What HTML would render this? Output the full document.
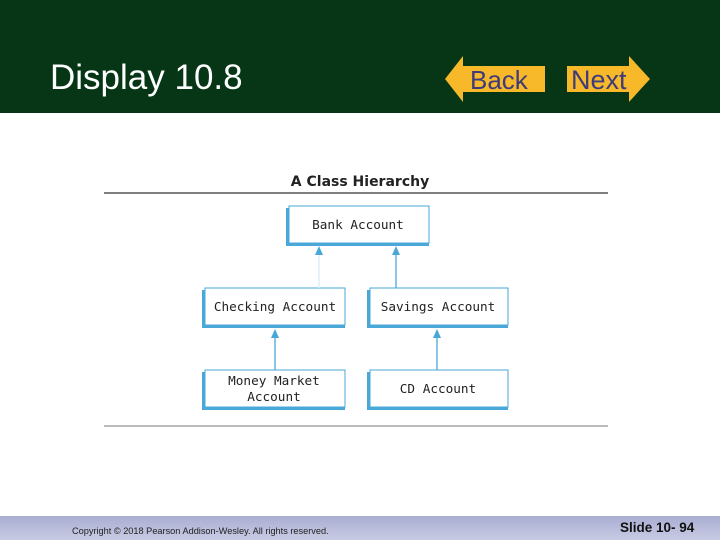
<!DOCTYPE html>
<html><head><meta charset="utf-8"><style>
html,body{margin:0;padding:0;width:720px;height:540px;overflow:hidden;background:#fff}
</style></head><body>
<svg width="720" height="540" xmlns="http://www.w3.org/2000/svg">
<defs>
<linearGradient id="ft" x1="0" y1="0" x2="0" y2="1">
<stop offset="0" stop-color="#a9add2"/><stop offset="1" stop-color="#c9cbe4"/>
</linearGradient>
</defs>
<rect x="0" y="0" width="720" height="113" fill="#063616"/>
<text x="50" y="89" font-family="Liberation Sans, sans-serif" font-size="35" fill="#fff">Display 10.8</text>
<polygon points="445,79 463,56 463,66 545,66 545,92 463,92 463,102" fill="#f7b929"/>
<text x="470" y="89" font-family="Liberation Sans, sans-serif" font-size="26" fill="#3d3b7a">Back</text>
<polygon points="567,66 629,66 629,56 650,79 629,102 629,92 567,92" fill="#f7b929"/>
<text x="571" y="89" font-family="Liberation Sans, sans-serif" font-size="27" fill="#3d3b7a">Next</text>

<text x="360" y="186" text-anchor="middle" font-family="DejaVu Sans, sans-serif" font-weight="bold" font-size="14" fill="#222">A Class Hierarchy</text>
<line x1="104" y1="193" x2="608" y2="193" stroke="#333" stroke-width="1.2"/>
<line x1="104" y1="426" x2="608" y2="426" stroke="#777" stroke-width="1"/>

<g font-family="DejaVu Sans Mono, Liberation Mono, monospace" font-size="12.7" fill="#222" text-anchor="middle">
<g stroke="#4aa8d8">
<rect x="286" y="208" width="143" height="38" fill="#4aa8d8" stroke="none"/>
<rect x="289" y="206" width="140" height="37" fill="#fff" stroke-width="1"/>
<rect x="202" y="290" width="143" height="38" fill="#4aa8d8" stroke="none"/>
<rect x="205" y="288" width="140" height="37" fill="#fff" stroke-width="1"/>
<rect x="367" y="290" width="141" height="38" fill="#4aa8d8" stroke="none"/>
<rect x="370" y="288" width="138" height="37" fill="#fff" stroke-width="1"/>
<rect x="202" y="372" width="143" height="38" fill="#4aa8d8" stroke="none"/>
<rect x="205" y="370" width="140" height="37" fill="#fff" stroke-width="1"/>
<rect x="367" y="372" width="141" height="38" fill="#4aa8d8" stroke="none"/>
<rect x="370" y="370" width="138" height="37" fill="#fff" stroke-width="1"/>
</g>
<text x="358" y="229">Bank Account</text>
<text x="275" y="311">Checking Account</text>
<text x="438" y="311">Savings Account</text>
<text x="274" y="385">Money Market</text>
<text x="274" y="401">Account</text>
<text x="438" y="393">CD Account</text>
</g>
<g stroke="#4aa8d8" stroke-width="1.3" fill="#4aa8d8">
<line x1="319" y1="254" x2="319" y2="288" stroke="#d8eef8"/>
<polygon points="319,246 315,255 323,255" stroke="none"/>
<line x1="396" y1="254" x2="396" y2="288"/>
<polygon points="396,246 392,255 400,255" stroke="none"/>
<line x1="275" y1="337" x2="275" y2="370"/>
<polygon points="275,329 271,338 279,338" stroke="none"/>
<line x1="437" y1="337" x2="437" y2="370"/>
<polygon points="437,329 433,338 441,338" stroke="none"/>
</g>

<rect x="0" y="516" width="720" height="24" fill="url(#ft)"/>
<text x="72" y="534" font-family="Liberation Sans, sans-serif" font-size="9.2" fill="#222">Copyright © 2018 Pearson Addison-Wesley.  All rights reserved.</text>
<text x="620" y="532" font-family="Liberation Sans, sans-serif" font-weight="bold" font-size="13.5" fill="#111">Slide 10- 94</text>
</svg>
</body></html>
